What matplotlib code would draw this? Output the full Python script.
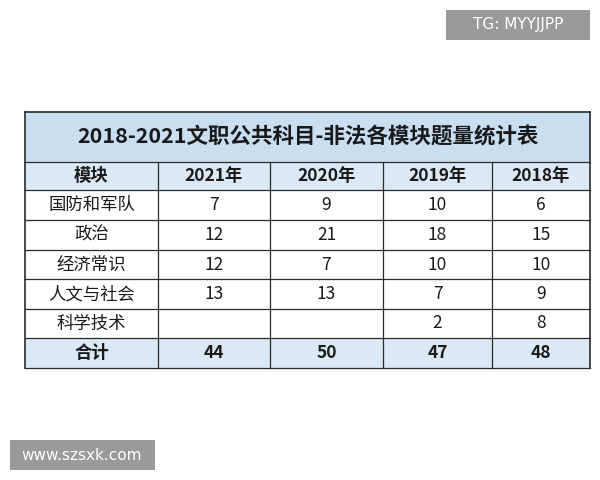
import matplotlib
matplotlib.use("Agg")
import matplotlib.pyplot as plt
from matplotlib.patches import Rectangle

plt.rcParams['font.family'] = ['Noto Sans CJK SC', 'DejaVu Sans']

title = "2018-2021文职公共科目-非法各模块题量统计表"
header = ["模块", "2021年", "2020年", "2019年", "2018年"]
modules = ["国防和军队", "政治", "经济常识", "人文与社会", "科学技术"]
v2021 = [7, 12, 12, 13, None]
v2020 = [9, 21, 7, 13, None]
v2019 = [10, 18, 10, 7, 2]
v2018 = [6, 15, 10, 9, 8]
totals = ["合计", 44, 50, 47, 48]

fig = plt.figure(figsize=(6, 4.8), dpi=100)
ax = fig.add_axes([0, 0, 1, 1])
ax.set_xlim(0, 600); ax.set_ylim(480, 0); ax.axis('off')

cols = [25, 158, 270, 383, 492, 590]
rows = [162, 190, 220, 250, 279, 309, 338, 368]
top = 112

ax.add_patch(Rectangle((cols[0], top), cols[-1]-cols[0], rows[0]-top, fc='#c9def1', ec='none'))
ax.add_patch(Rectangle((cols[0], rows[0]), cols[-1]-cols[0], rows[1]-rows[0], fc='#dbe9f6', ec='none'))
ax.add_patch(Rectangle((cols[0], rows[-2]), cols[-1]-cols[0], rows[-1]-rows[-2], fc='#dbe9f6', ec='none'))

lc = '#2a2a2a'
ax.plot([cols[0], cols[-1]], [top, top], color=lc, lw=1.2)
for y in rows:
    ax.plot([cols[0], cols[-1]], [y, y], color=lc, lw=0.9)
ax.plot([cols[0], cols[0]], [top, rows[-1]], color=lc, lw=1.2)
ax.plot([cols[-1], cols[-1]], [top, rows[-1]], color=lc, lw=1.2)
for x in cols[1:-1]:
    ax.plot([x, x], [rows[0], rows[-1]], color=lc, lw=0.9)

ax.text((cols[0]+cols[-1])/2, (top+rows[0])/2, title, ha='center', va='center',
        fontsize=15.5, fontweight='bold', color='#1a1a1a')

def cx(i): return (cols[i]+cols[i+1])/2
def cy(j): return (rows[j]+rows[j+1])/2

for i, h in enumerate(header):
    ax.text(cx(i), cy(0), h, ha='center', va='center', fontsize=12.5, fontweight='bold', color='#1a1a1a')
series = [v2021, v2020, v2019, v2018]
for r, m in enumerate(modules):
    ax.text(cx(0), cy(r+1), m, ha='center', va='center', fontsize=12.5, color='#1a1a1a')
    for c, s in enumerate(series):
        if s[r] is not None:
            ax.text(cx(c+1), cy(r+1), str(s[r]), ha='center', va='center', fontsize=12.5, color='#1a1a1a')
for i, t in enumerate(totals):
    ax.text(cx(i), cy(6), str(t), ha='center', va='center', fontsize=12.5, fontweight='bold', color='#1a1a1a')

ax.add_patch(Rectangle((446, 10), 144, 30, fc='#9a9a9a', ec='none'))
ax.text(518, 25, "TG: MYYJJPP", ha='center', va='center', fontsize=11, color='white', family='DejaVu Sans')
ax.add_patch(Rectangle((10, 440), 145, 30, fc='#9a9a9a', ec='none'))
ax.text(82, 455, "www.szsxk.com", ha='center', va='center', fontsize=11, color='white', family='DejaVu Sans')

fig.savefig("out.png", dpi=100, facecolor='white')
